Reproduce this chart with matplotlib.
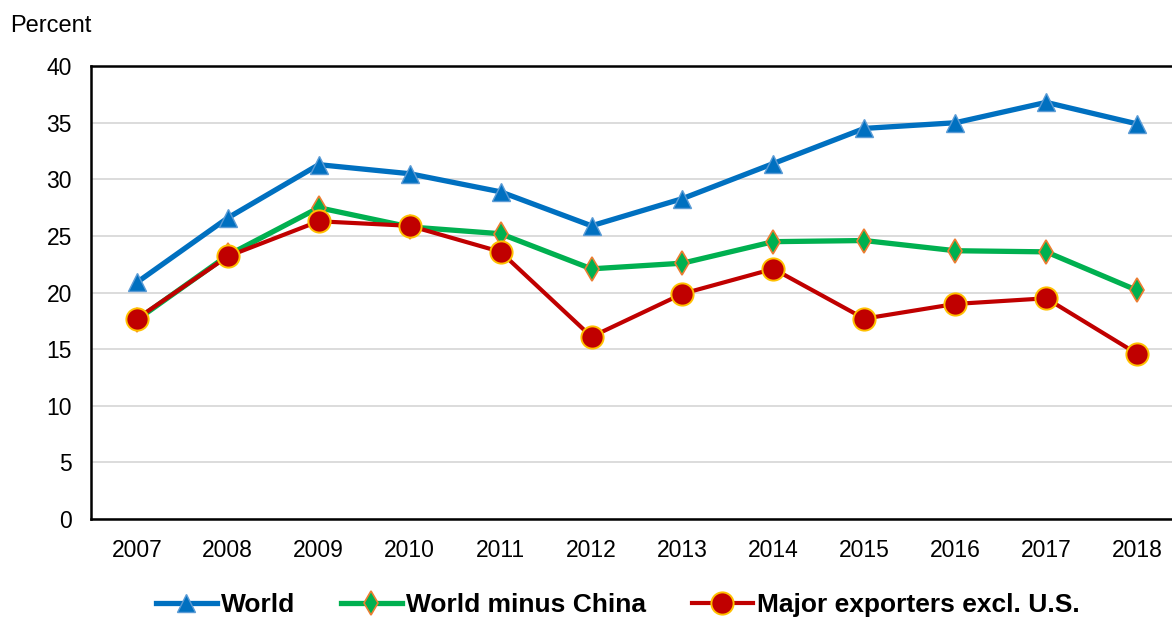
import matplotlib
matplotlib.use("Agg")
import matplotlib.pyplot as plt

plt.rcParams["font.family"] = ["Liberation Sans", "DejaVu Sans"]

# ── 数据 ──
YEARS = [2007, 2008, 2009, 2010, 2011, 2012, 2013, 2014, 2015, 2016, 2017, 2018]
WORLD = [20.9, 26.6, 31.3, 30.5, 28.9, 25.9, 28.3, 31.4, 34.5, 35.0, 36.8, 34.9]
WORLD_EX_CHINA = [17.6, 23.3, 27.5, 25.8, 25.2, 22.1, 22.6, 24.5, 24.6, 23.7, 23.6, 20.2]
MAJOR_EX_US = [17.7, 23.2, 26.3, 25.9, 23.6, 16.1, 19.9, 22.1, 17.7, 19.0, 19.5, 14.6]
Y_TICKS = [0, 5, 10, 15, 20, 25, 30, 35, 40]

fig = plt.figure(figsize=(11.72, 6.18), dpi=100)
ax = fig.add_axes([0.078, 0.160, 0.931, 0.733])

ax.plot(YEARS, WORLD, color="#0070C0", lw=3.8, marker="^", ms=13,
        mfc="#0070C0", mec="#5B9BD5", mew=1, label="World", zorder=3)
ax.plot(YEARS, WORLD_EX_CHINA, color="#00B050", lw=3.8, marker="d", ms=12.5,
        mfc="#00B050", mec="#ED7D31", mew=1.2, label="World minus China", zorder=4)
ax.plot(YEARS, MAJOR_EX_US, color="#C00000", lw=3.0, marker="o", ms=16,
        mfc="#C00000", mec="#FFC000", mew=1.4, label="Major exporters excl. U.S.", zorder=5)

ax.set_xlim(2006.5, 2018.5)
ax.set_ylim(0, 40)
ax.set_yticks(Y_TICKS)
ax.set_xticks(YEARS)
ax.set_xticklabels([str(y) for y in YEARS])
ax.tick_params(axis="both", length=0, labelsize=16.5)
ax.tick_params(axis="x", pad=14)
ax.tick_params(axis="y", pad=14)

ax.grid(axis="y", color="#D9D9D9", lw=1.3, zorder=0)
ax.set_axisbelow(True)
for side in ["left", "top", "bottom", "right"]:
    ax.spines[side].set_color("black")
    ax.spines[side].set_linewidth(1.8)

fig.text(0.009, 0.958, "Percent", fontsize=17, ha="left", va="center")

fig.legend(loc="center", bbox_to_anchor=(0.527, 0.021), ncol=3,
           frameon=False, handlelength=2.3, handletextpad=0.15, columnspacing=1.75,
           prop={"weight": "bold", "size": 19})

fig.savefig("out.png", dpi=100)
